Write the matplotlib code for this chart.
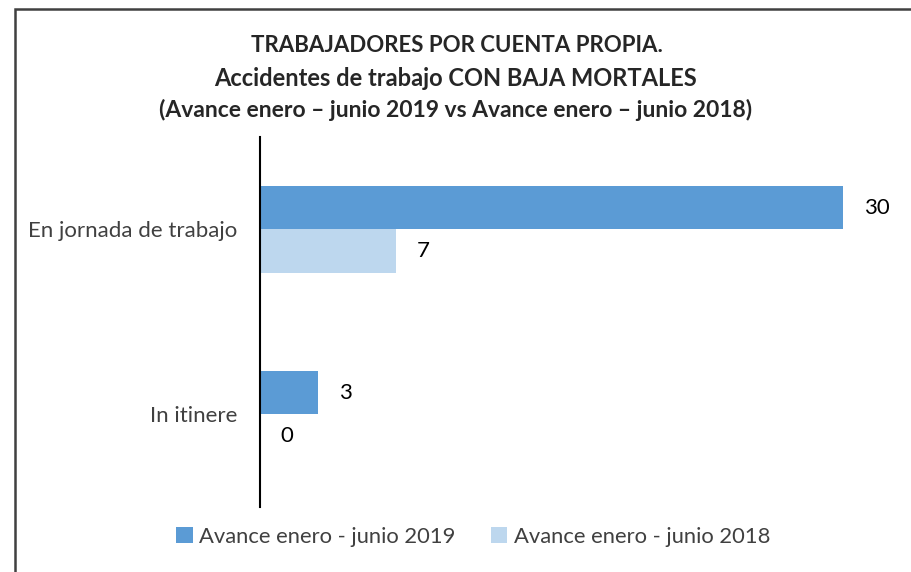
import numpy as np
import matplotlib.pyplot as plt
from matplotlib.patches import Rectangle

# data
categories = ["En jornada de trabajo", "In itinere"]
series_labels = ["Avance enero - junio 2019", "Avance enero - junio 2018"]
values_2019 = [30, 3]
values_2018 = [7, 0]
colors = ["#5B9BD5", "#BDD7EE"]

title_lines = [
    "TRABAJADORES POR CUENTA PROPIA.",
    "Accidentes de trabajo CON BAJA MORTALES",
    "(Avance enero \u2013 junio 2019 vs Avance enero \u2013 junio 2018)",
]

plt.rcParams["font.family"] = ["Lato", "DejaVu Sans"]

fig = plt.figure(figsize=(9.12, 5.72), dpi=100)
ax = fig.add_axes([0.285, 0.1136, 0.682, 0.647])

y = np.arange(len(categories))
h = 0.235
bars_a = ax.barh(y - h / 2, values_2019, height=h, color=colors[0], label=series_labels[0])
bars_b = ax.barh(y + h / 2, values_2018, height=h, color=colors[1], label=series_labels[1])

# value labels
for bars in (bars_a, bars_b):
    for b in bars:
        w = b.get_width()
        ax.annotate(
            f"{w:g}",
            xy=(w, b.get_y() + b.get_height() / 2),
            xytext=(15, 0),
            textcoords="offset points",
            va="center",
            ha="left",
            fontsize=16,
            color="black",
        )

ax.set_xlim(0, 32)
ax.set_ylim(1.5, -0.5)
ax.set_yticks(y)
ax.set_yticklabels(categories, fontsize=16, color="#404040")
ax.tick_params(axis="y", length=0, pad=16)
ax.set_xticks([])
for s in ("top", "right", "bottom"):
    ax.spines[s].set_visible(False)
ax.spines["left"].set_linewidth(1.5)
ax.spines["left"].set_color("black")

# titles
fig.text(0.501, 0.92, title_lines[0], ha="center", va="center",
         fontsize=16, fontweight="bold", color="#262626")
fig.text(0.5, 0.863, title_lines[1], ha="center", va="center",
         fontsize=17, fontweight="bold", color="#262626")
fig.text(0.499, 0.807, title_lines[2], ha="center", va="center",
         fontsize=16.5, fontweight="bold", color="#262626")

# legend
fig.legend(
    loc="center",
    bbox_to_anchor=(0.519, 0.061),
    ncol=2,
    frameon=False,
    fontsize=15.8,
    labelcolor="#404040",
    handlelength=0.75,
    handleheight=0.75,
    handletextpad=0.3,
    columnspacing=1.6,
)

# chart frame (only top and left edges fall inside the image)
fig.add_artist(Rectangle((0.0159, -0.5), 2.0, 0.9834 + 0.5,
                         transform=fig.transFigure, fill=False,
                         edgecolor="#404040", linewidth=1.8))

fig.savefig("out.png", dpi=100, facecolor="white")
